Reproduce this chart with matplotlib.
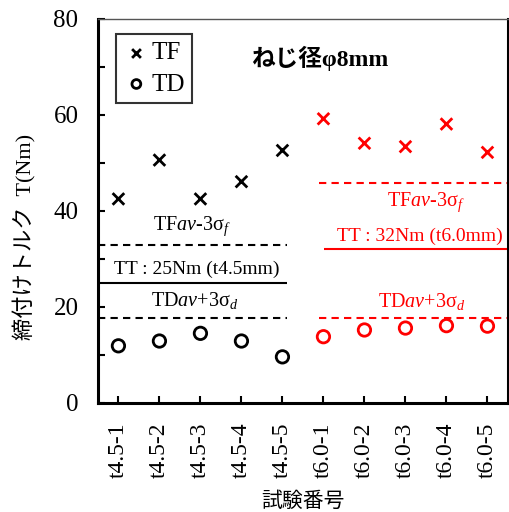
import matplotlib.pyplot as plt
import numpy as np

plt.rcParams['font.family'] = ['Liberation Serif', 'Noto Sans CJK JP']
plt.rcParams['mathtext.fontset'] = 'custom'
plt.rcParams['mathtext.rm'] = 'Liberation Serif'
plt.rcParams['mathtext.it'] = 'Liberation Serif:italic'

tests = ["t4.5-1", "t4.5-2", "t4.5-3", "t4.5-4", "t4.5-5",
         "t6.0-1", "t6.0-2", "t6.0-3", "t6.0-4", "t6.0-5"]
tf = [42.5, 50.6, 42.5, 46.1, 52.6, 59.2, 54.1, 53.4, 58.1, 52.2]
td = [11.9, 12.9, 14.5, 12.9, 9.6, 13.8, 15.2, 15.6, 16.1, 16.0]

# limit lines for each plate thickness
tf_lim = {"t4.5": 33.0, "t6.0": 45.8}
tt_val = {"t4.5": 25.0, "t6.0": 32.0}
td_lim = {"t4.5": 17.8, "t6.0": 17.6}

fig = plt.figure(figsize=(5.1, 5.12), dpi=100)
ax = fig.add_axes([0.192, 0.213, 0.804, 0.750])

x = np.arange(1, len(tests) + 1)
colors = ["black"] * 5 + ["red"] * 5

ax.scatter(x, tf, marker="x", s=70, c=colors, linewidths=2, label="TF", zorder=3)
ax.scatter(x, td, marker="o", s=80, facecolors="none", edgecolors=colors,
           linewidths=2, label="TD", zorder=3)

dash = (0, (3.5, 2.5))
# t4.5 group (black)
ax.hlines(tf_lim["t4.5"], 0.5, 5.12, colors="black", linestyles=dash, lw=1.5)
ax.hlines(tt_val["t4.5"], 0.5, 5.12, colors="black", linestyles="-", lw=1.5)
ax.hlines(td_lim["t4.5"], 0.5, 5.12, colors="black", linestyles=dash, lw=1.5)

# t6.0 group (red)
ax.hlines(tf_lim["t6.0"], 5.88, 10.5, colors="red", linestyles=dash, lw=1.5)
ax.hlines(tt_val["t6.0"], 6.02, 10.5, colors="red", linestyles="-", lw=1.5)
ax.hlines(td_lim["t6.0"], 5.88, 10.5, colors="red", linestyles=dash, lw=1.5)

fs = 14.5
ax.text(2.8, tf_lim["t4.5"] + 1.3, r"TF$\mathit{av}$-3σ$_{\mathit{f}}$", ha="center", va="bottom", fontsize=fs)
ax.text(2.9, tt_val["t4.5"] + 1.0, "TT : 25Nm (t4.5mm)", ha="center", va="bottom", fontsize=14)
ax.text(2.85, td_lim["t4.5"] + 1.3, r"TD$\mathit{av}$+3σ$_{\mathit{d}}$", ha="center", va="bottom", fontsize=fs)

ax.text(8.5, tf_lim["t6.0"] - 1.5, r"TF$\mathit{av}$-3σ$_{\mathit{f}}$", ha="center", va="top", color="red", fontsize=fs)
ax.text(8.35, tt_val["t6.0"] + 1.0, "TT : 32Nm (t6.0mm)", ha="center", va="bottom", color="red", fontsize=14)
ax.text(8.4, td_lim["t6.0"] + 1.3, r"TD$\mathit{av}$+3σ$_{\mathit{d}}$", ha="center", va="bottom", color="red", fontsize=fs)

ax.text(5.9, 71.8, "ねじ径φ8mm", ha="center", va="center", fontsize=17, fontweight="bold")

leg = ax.legend(loc="upper left", bbox_to_anchor=(0.045, 0.96), fontsize=18,
                frameon=True, fancybox=False, edgecolor="black", handletextpad=0.1,
                handlelength=1.0, borderpad=0.3, labelspacing=0.35, borderaxespad=0)
leg.get_frame().set_linewidth(1.5)
for h in leg.legend_handles:
    h.set_color("black")
    h.set_sizes([40])
leg.legend_handles[1].set_facecolor("none")

ax.set_xlim(0.5, 10.5)
ax.set_ylim(0, 80)
ax.set_xticks(x)
ax.set_xticklabels(tests, rotation=90, fontsize=17)
ax.set_yticks(np.arange(0, 81, 20))
ax.set_yticks(np.arange(10, 80, 20), minor=True)
ax.tick_params(axis="both", direction="in", width=1.5, length=5)
ax.tick_params(axis="y", which="minor", direction="in", width=1.5, length=5)
ax.tick_params(axis="y", pad=14, labelsize=18)
ax.tick_params(axis="x", pad=14)

for side in ["left", "bottom", "right"]:
    ax.spines[side].set_linewidth(2.2)
ax.spines["top"].set_linewidth(1.0)
ax.spines["top"].set_color("#555555")

ax.set_xlabel("試験番号", fontsize=15)
ax.xaxis.set_label_coords(0.5, -0.233)
ax.set_ylabel("締付けトルク  T(Nm)", fontsize=16)
ax.yaxis.set_label_coords(-0.15, 0.432)

fig.savefig("out.png", dpi=100)
